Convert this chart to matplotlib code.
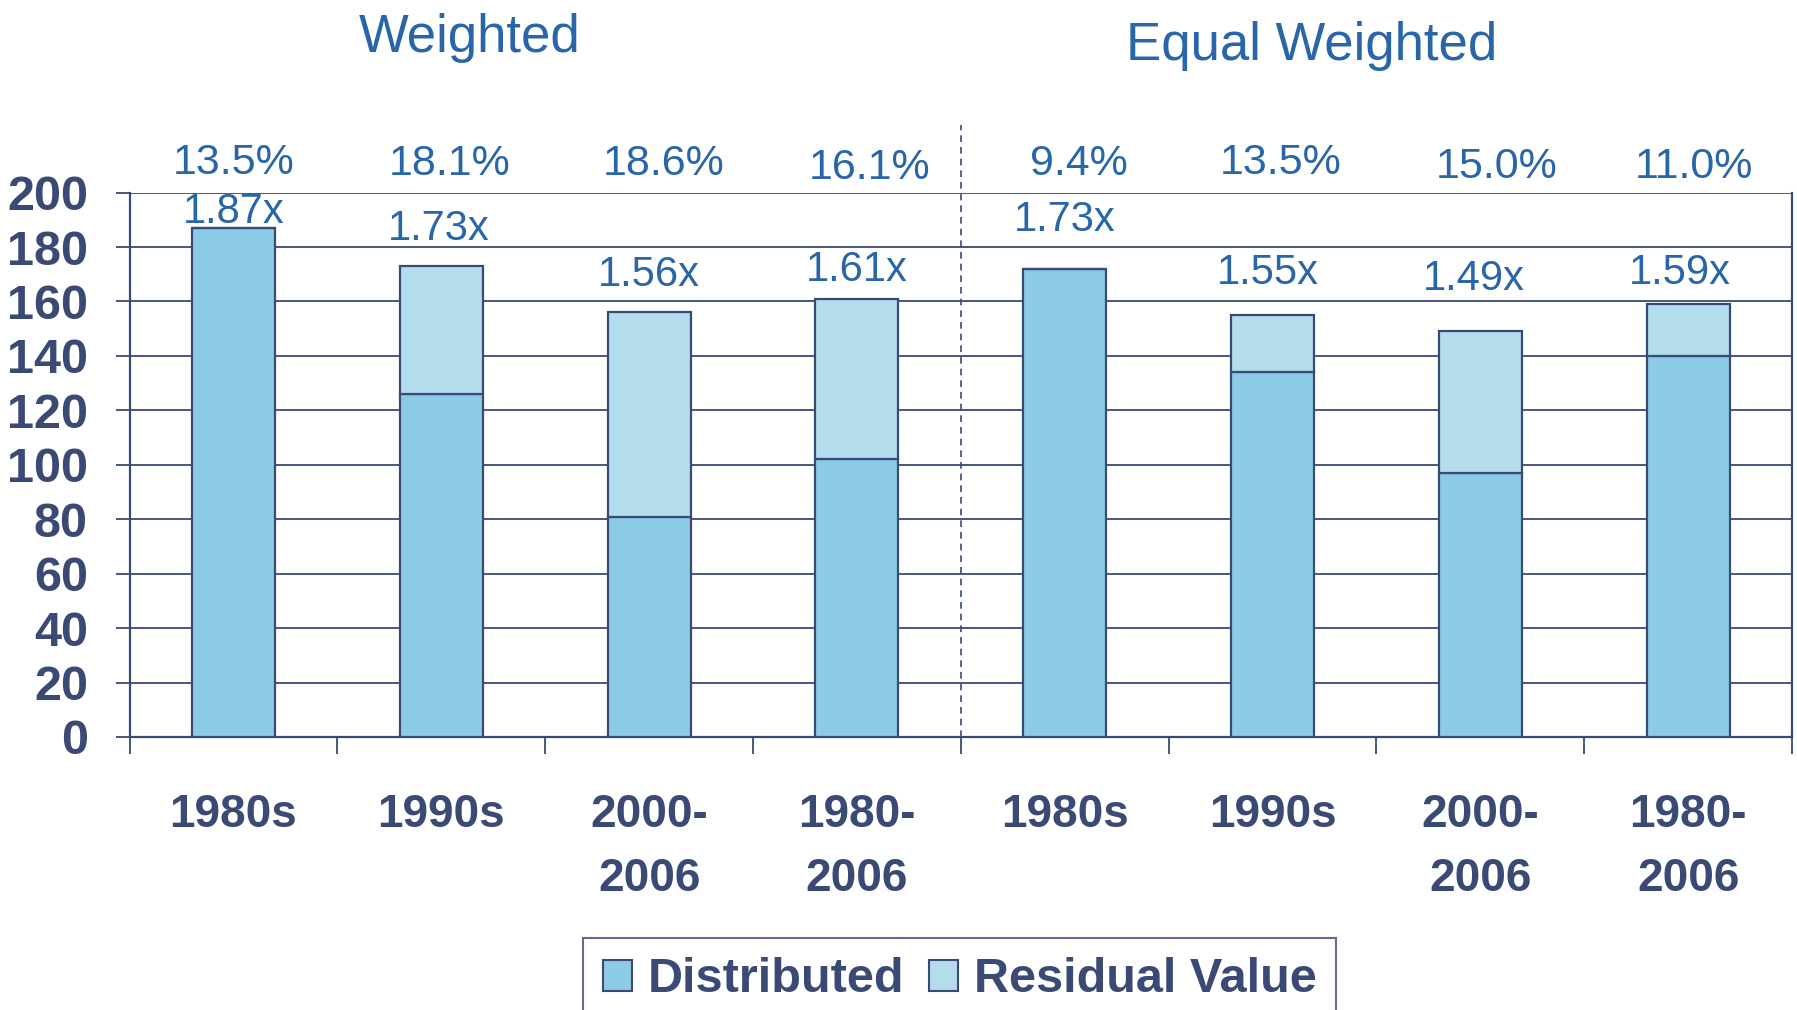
import matplotlib
matplotlib.use("Agg")
import matplotlib.pyplot as plt
from matplotlib.patches import Patch
import numpy as np

# data
categories = ["1980s", "1990s", "2000-\n2006", "1980-\n2006",
              "1980s", "1990s", "2000-\n2006", "1980-\n2006"]
distributed = [187, 126, 81, 102, 172, 134, 97, 140]
residual = [0, 47, 75, 59, 0, 21, 52, 19]
multiples = ["1.87x", "1.73x", "1.56x", "1.61x", "1.73x", "1.55x", "1.49x", "1.59x"]
irr = ["13.5%", "18.1%", "18.6%", "16.1%", "9.4%", "13.5%", "15.0%", "11.0%"]
group_titles = ["Weighted", "Equal Weighted"]

# label placement (layout only)
mult_y = [193, 186.7, 169.8, 171.5, 189.8, 170.4, 168.2, 170.4]
mult_dx = [0, -0.01, 0, 0, 0, -0.02, -0.03, -0.04]
irr_y = [211, 210.5, 210.5, 209, 210.5, 211, 209.5, 209.5]
irr_dx = [0, 0.04, 0.07, 0.06, 0.07, 0.04, 0.08, 0.03]

NAVY = "#3a4a75"
BLUE = "#2866a9"
C_DIST = "#8ccbe6"
C_RES = "#b3dcec"

plt.rcParams["font.family"] = ["Liberation Sans", "DejaVu Sans"]

fig = plt.figure(figsize=(17.97, 10.10), dpi=100)
ax = fig.add_axes([0.0721, 0.2703, 0.9972 - 0.0721, 0.8093 - 0.2703])

x = np.arange(len(categories)) + 0.5
w = 0.40
ax.bar(x, distributed, w, color=C_DIST, edgecolor=NAVY, linewidth=1.6, zorder=3)
ax.bar(x, residual, w, bottom=distributed, color=C_RES, edgecolor=NAVY,
       linewidth=1.6, zorder=3)

ax.set_xlim(0, 8)
ax.set_ylim(0, 200)
ax.set_yticks(range(0, 201, 20))
ax.yaxis.grid(True, color=NAVY, linewidth=1.3, zorder=0)
ax.set_axisbelow(True)

ax.spines["top"].set_visible(False)
for s in ["left", "right", "bottom"]:
    ax.spines[s].set_color(NAVY)
    ax.spines[s].set_linewidth(1.6)

ax.tick_params(axis="y", length=10, width=1.3, color=NAVY, labelcolor=NAVY,
               labelsize=35, pad=20)
for t in ax.get_yticklabels():
    t.set_fontweight("bold")

ax.set_xticks(x)
ax.set_xticklabels(categories, fontsize=33, fontweight="bold", color=NAVY,
                   linespacing=1.6)
ax.tick_params(axis="x", length=0, pad=40)
ax.set_xticks(np.arange(0, 9), minor=True)
ax.tick_params(axis="x", which="minor", length=12, width=1.3, color=NAVY)

# separator between the two groups
ax.plot([4, 4], [0, 225], ls=(0, (4, 3)), color=NAVY, lw=1.2, clip_on=False,
        zorder=4)

for i in range(len(categories)):
    ax.text(x[i] + mult_dx[i], mult_y[i], multiples[i], ha="center", va="center",
            fontsize=30, color=BLUE, clip_on=False, zorder=5)
    ax.text(x[i] + irr_dx[i], irr_y[i], irr[i], ha="center", va="center",
            fontsize=31, color=BLUE, clip_on=False, zorder=5)

fig.text(470 / 1797, 1 - 52 / 1010, group_titles[0], ha="center",
         va="baseline", fontsize=38, color=BLUE)
fig.text(1312 / 1797, 1 - 60 / 1010, group_titles[1], ha="center",
         va="baseline", fontsize=38, color=BLUE)

handles = [Patch(facecolor=C_DIST, edgecolor=NAVY, linewidth=1.5, label="Distributed"),
           Patch(facecolor=C_RES, edgecolor=NAVY, linewidth=1.5, label="Residual Value")]
leg = fig.legend(handles=handles, loc="upper center", bbox_to_anchor=(0.534, 0.0715),
                 ncol=2, frameon=True, fancybox=False, borderaxespad=0,
                 handlelength=0.6, handleheight=0.6, handletextpad=0.33,
                 columnspacing=0.5, borderpad=0.4,
                 prop={"size": 35, "weight": "bold"})
leg.get_frame().set_edgecolor(NAVY)
leg.get_frame().set_linewidth(1.5)
for t in leg.get_texts():
    t.set_color(NAVY)

fig.savefig("out.png", dpi=100)
